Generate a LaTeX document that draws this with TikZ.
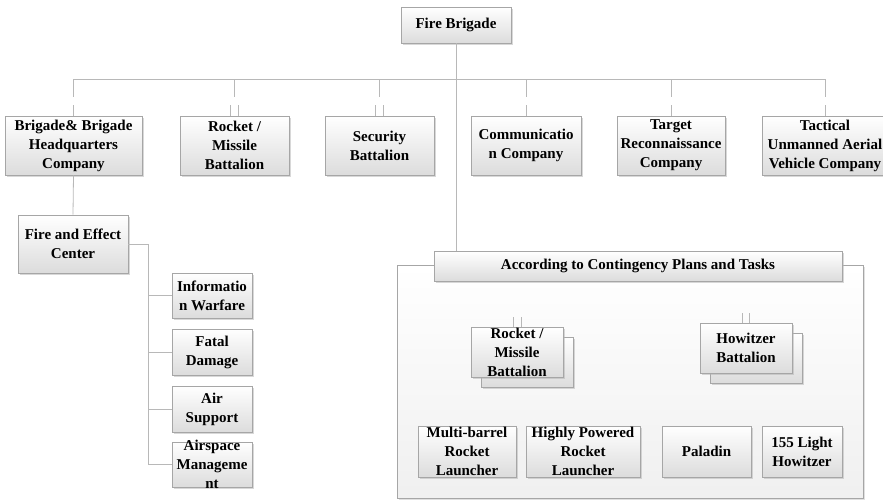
\documentclass[tikz,border=0pt]{standalone}
\usepackage{fontspec}
\setmainfont{Liberation Serif}
\usetikzlibrary{shadows}
\definecolor{edge}{HTML}{A6A6A6}
\definecolor{wire}{HTML}{B8B8B8}
\definecolor{shade}{HTML}{DCDCDC}
\tikzset{
  unitbox/.style={draw=edge, line width=0.8pt, top color=white, bottom color=shade,
    rectangle, inner sep=0pt, align=center,
    font=\fontsize{15}{19}\selectfont\bfseries,
    drop shadow={shadow xshift=1.5pt, shadow yshift=-1.5pt, fill=gray!60, opacity=0.5}},
  lbl/.style={align=center, inner sep=0pt, font=\fontsize{15}{19}\selectfont\bfseries},
  conn/.style={draw=wire, line width=0.8pt},
  frame/.style={draw=edge, line width=0.8pt, top color=white, bottom color=gray!12,
    drop shadow={shadow xshift=1.5pt, shadow yshift=-1.5pt, fill=gray!60, opacity=0.4}}
}
\begin{document}
\begin{tikzpicture}[x=1pt,y=-1pt]
\useasboundingbox (0,0) rectangle (883,499);
\begin{scope}
\clip (0,0) rectangle (883,499);

% contingency frame and its header
\path[frame] (397,265) rectangle (863,498);
\node[unitbox, minimum width=408pt, minimum height=30pt] (hdr) at (638,266)
  {According to Contingency Plans and Tasks};

% top of the tree
\node[unitbox, minimum width=110pt, minimum height=36pt] (fb) at (456,25) {Fire Brigade};
\coordinate (bus) at (0,79);

% first level
\node[unitbox, minimum width=137pt, minimum height=59pt] (brig) at (73.5,145.5) {Brigade\& Brigade\\Headquarters\\Company};
\node[unitbox, minimum width=109pt, minimum height=59pt] (rock) at (234.5,145.5) {Rocket /\\Missile\\Battalion};
\node[unitbox, minimum width=109pt, minimum height=59pt] (sec) at (379.5,145.5) {Security\\Battalion};
\node[unitbox, minimum width=110pt, minimum height=59pt] (comm) at (526,145.5) {Communicatio\\n Company};
\node[unitbox, minimum width=108pt, minimum height=59pt] (targ) at (671,145.5) {Target\\Reconnaissance\\Company};
\node[unitbox, minimum width=126pt, minimum height=59pt] (tact) at (825,145.5) {Tactical\\Unmanned Aerial\\Vehicle Company};

% fire and effect center with its cells
\node[unitbox, minimum width=110pt, minimum height=58pt] (fec) at (73,244) {Fire and Effect\\Center};
\node[unitbox, minimum width=80pt, minimum height=45pt] (info) at (212,295.5) {Informatio\\n Warfare};
\node[unitbox, minimum width=80pt, minimum height=46pt] (fatal) at (212,352) {Fatal\\Damage};
\node[unitbox, minimum width=80pt, minimum height=46pt] (air) at (212,409) {Air\\Support};
\node[unitbox, minimum width=80pt, minimum height=45pt] (airs) at (212,464.5) {};
\node[lbl] at (airs) {Airspace\\Manageme\\nt};

% stacked battalions inside the frame
\node[unitbox, minimum width=92pt, minimum height=50pt] (rockb) at (527,362) {};
\node[unitbox, minimum width=92pt, minimum height=50pt] (rock2) at (517,352) {};
\node[lbl] at (rock2) {Rocket /\\Missile\\Battalion};
\node[unitbox, minimum width=92pt, minimum height=50pt] (howb) at (756,358) {};
\node[unitbox, minimum width=92pt, minimum height=50pt] (how) at (746,348) {Howitzer\\Battalion};

% weapon systems
\node[unitbox, minimum width=98pt, minimum height=51pt] (mrl) at (467,451.5) {Multi-barrel\\Rocket\\Launcher};
\node[unitbox, minimum width=114pt, minimum height=51pt] (hprl) at (583,451.5) {Highly Powered\\Rocket\\Launcher};
\node[unitbox, minimum width=89pt, minimum height=51pt] (pal) at (706.5,451.5) {Paladin};
\node[unitbox, minimum width=80pt, minimum height=51pt] (lh) at (802,451.5) {155 Light\\Howitzer};

% connectors: trunk and bus
\draw[conn] (fb.south) -- (fb.south |- hdr.north);
\draw[conn] (brig.north |- bus) -- (tact.north |- bus);
\foreach \n in {brig,comm,targ,tact}{
  \draw[conn] (\n.north |- bus) -- ++(0,18);
  \draw[conn] (\n.north) -- ++(0,-11);
}
\foreach \n in {rock,sec}{
  \draw[conn] (\n.north |- bus) -- ++(0,18);
  \draw[conn] ([xshift=-4pt]\n.north) -- ++(0,-11);
  \draw[conn] ([xshift=4pt]\n.north) -- ++(0,-11);
}
\draw[conn] ([xshift=-4pt]rock2.north) -- ++(0,-10);
\draw[conn] ([xshift=4pt]rock2.north) -- ++(0,-10);
\draw[conn] ([xshift=-3.5pt]how.north) -- ++(0,-10);
\draw[conn] ([xshift=3.5pt]how.north) -- ++(0,-10);

% brigade headquarters to fire and effect center
\draw[conn] (brig.south) -- (fec.north);
\coordinate (spine) at (148,0);
\draw[conn] (fec.east) -| (spine |- airs.west) -- (airs.west);
\foreach \n in {info,fatal,air}{
  \draw[conn] (spine |- \n.west) -- (\n.west);
}
\end{scope}
\end{tikzpicture}
\end{document}
